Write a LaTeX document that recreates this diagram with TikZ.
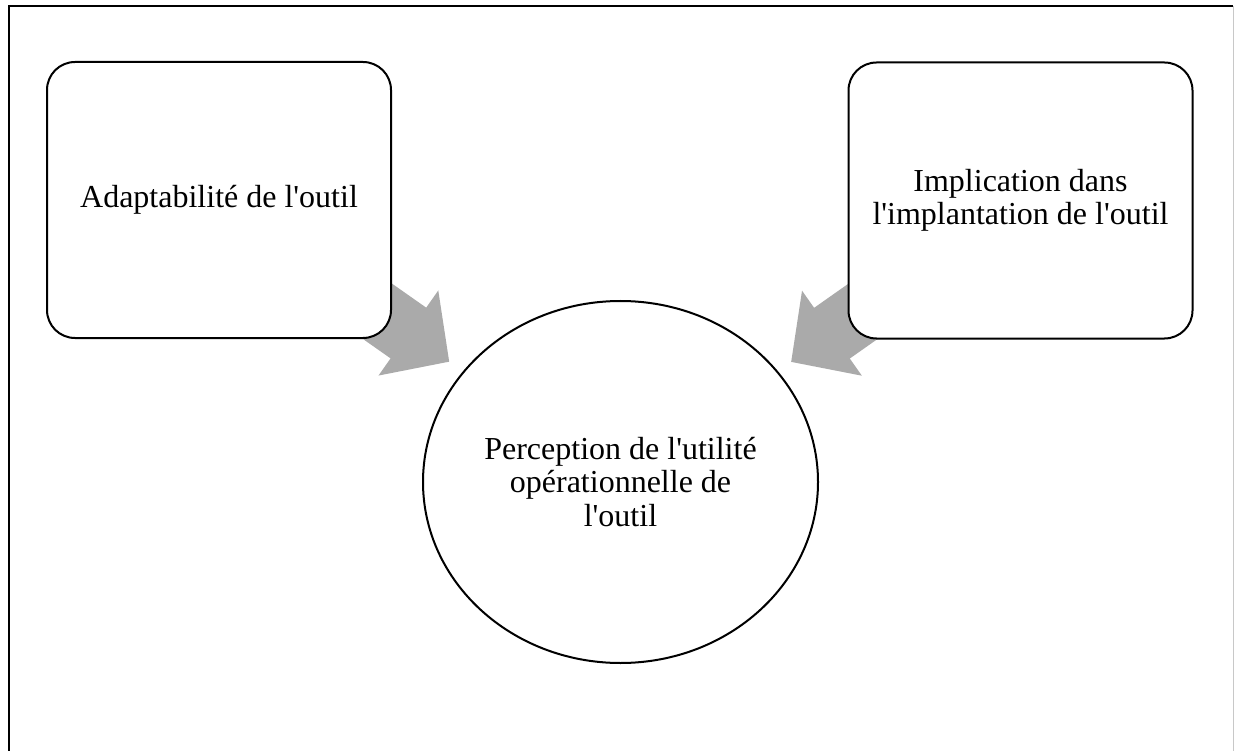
\documentclass[tikz,border=0pt]{standalone}
\usepackage{fontspec}
\setmainfont{Liberation Serif}
\usetikzlibrary{shapes.geometric,arrows.meta,calc}
\definecolor{arrowgray}{RGB}{170,170,170}
\definecolor{edgegray}{RGB}{200,200,200}
\newcommand{\sq}{\textquotesingle}
\pgfdeclarelayer{bg}
\pgfsetlayers{bg,main}
\tikzset{
  boxnode/.style={draw=black, fill=white, line width=2pt, rounded corners=28pt,
    minimum width=344pt, minimum height=276pt, align=center, inner sep=0pt,
    font=\fontsize{32}{33}\selectfont},
  ovalnode/.style={draw=black, fill=white, ellipse, line width=2pt,
    minimum width=395pt, minimum height=362pt, align=center, inner sep=0pt,
    font=\fontsize{32}{33.5}\selectfont},
  fatarrow/.style={draw=arrowgray, line width=62pt,
    -{Triangle[width=101pt,length=50pt]}}
}
\begin{document}
\begin{tikzpicture}[x=1pt,y=-1pt]
\useasboundingbox (0,0) rectangle (1234,751);
\draw[line width=2pt] (9,751) -- (9,6) -- (1233,6);
\draw[edgegray, line width=1pt] (1233,6) -- (1233,751);
\node[boxnode] (adapt) at (219,200) {Adaptabilité de l\sq outil};
\node[boxnode] (impl) at (1020.5,200.5) {Implication dans\\l\sq implantation de l\sq outil};
\node[ovalnode] (percep) at (620.5,482) {Perception de l\sq utilité\\opérationnelle de\\l\sq outil};
\coordinate (tipL) at ($(adapt.center)!0.5736!(percep.center)$);
\coordinate (tipR) at ($(impl.center)!0.5736!(percep.center)$);
\begin{pgfonlayer}{bg}
\draw[fatarrow] (adapt.center) -- (tipL);
\draw[fatarrow] (impl.center) -- (tipR);
\end{pgfonlayer}
\end{tikzpicture}
\end{document}
